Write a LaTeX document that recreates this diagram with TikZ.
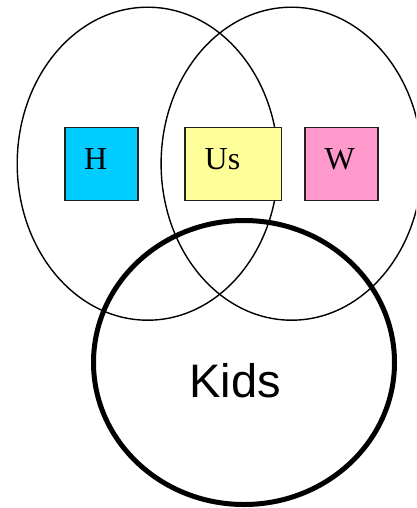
\documentclass[tikz,border=0pt]{standalone}
\usepackage{fontspec}
\setmainfont{Liberation Serif}
\newfontfamily\kidsfont{Liberation Sans}
\usetikzlibrary{shapes.geometric}
\definecolor{hcol}{HTML}{00CCFF}
\definecolor{uscol}{HTML}{FFFF99}
\definecolor{wcol}{HTML}{FF99CC}
\definecolor{boxline}{HTML}{222222}
\tikzset{
  set/.style={ellipse, draw=black, line width=1.4pt, inner sep=0pt, minimum width=261pt, minimum height=313pt},
  kidset/.style={ellipse, draw=black, line width=5pt, inner sep=0pt, minimum width=301pt, minimum height=284pt},
  tag/.style={draw=boxline, line width=1.5pt, inner sep=0pt, minimum height=73pt},
  tagtext/.style={anchor=base, inner sep=0pt, font=\fontsize{32}{32}\selectfont}
}
\begin{document}
\begin{tikzpicture}[x=1pt,y=-1pt]
\useasboundingbox (0,0) rectangle (416,508);
\clip (0,0) rectangle (416,508);
\node[set] (left) at (147.7,163.7) {};
\node[set] (right) at (291.6,163.7) {};
\node[kidset] (kids) at (244,362.5) {};
\node[anchor=base, inner sep=0pt, font=\kidsfont\fontsize{47}{47}\selectfont] (kidslabel) at (235,397) {Kids};
\node[tag, fill=hcol, minimum width=73pt] (h) at (101.5,164.2) {};
\node[tag, fill=uscol, minimum width=96.7pt] (us) at (233.3,164.2) {};
\node[tag, fill=wcol, minimum width=73pt] (w) at (341.3,164.2) {};
\node[tagtext] (hlabel) at (95.8,169) {H};
\node[tagtext] (uslabel) at (222.5,169) {Us};
\node[tagtext] (wlabel) at (339.7,169) {W};
\end{tikzpicture}
\end{document}
